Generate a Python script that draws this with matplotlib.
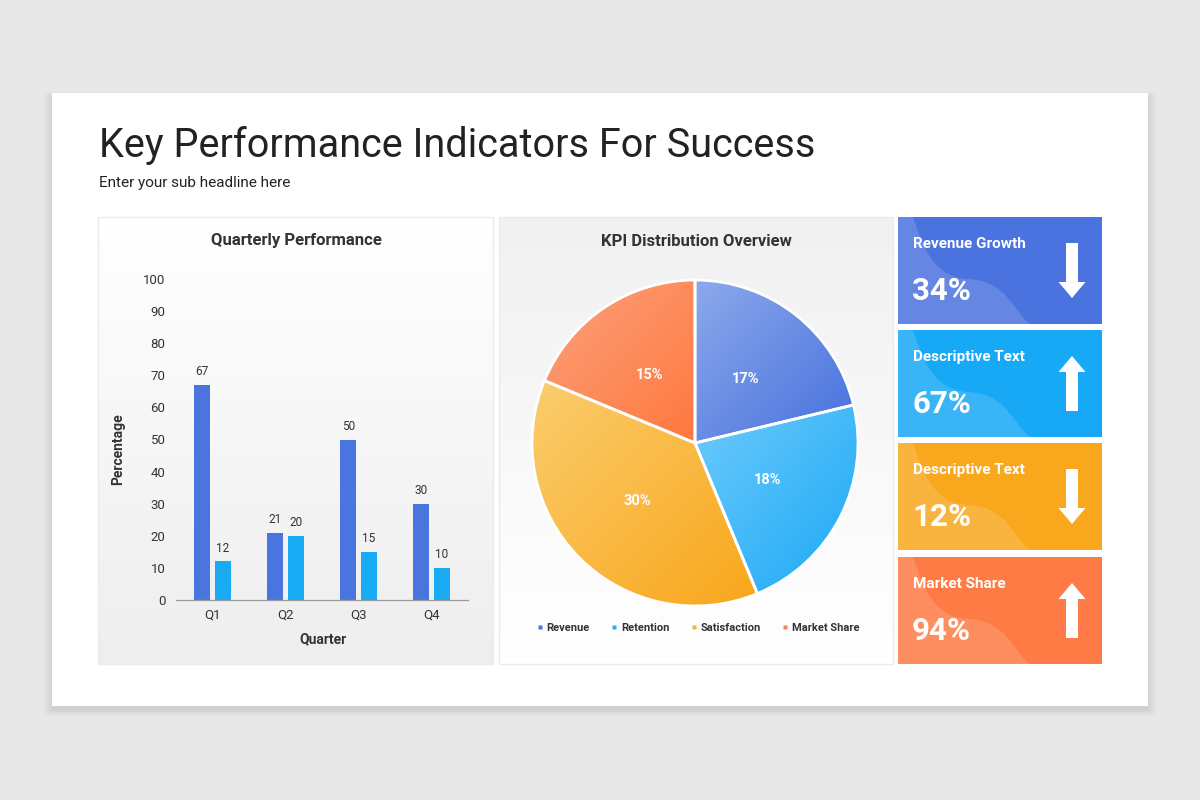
import matplotlib
matplotlib.use("Agg")
import matplotlib.pyplot as plt
import matplotlib.patches as mpatches
from matplotlib.path import Path
from matplotlib.lines import Line2D
from matplotlib.colors import to_rgb
import numpy as np

plt.rcParams['font.family'] = ['Roboto', 'DejaVu Sans']

# ---- data ----
quarters = ['Q1', 'Q2', 'Q3', 'Q4']
series_a = [67, 21, 50, 30]
series_b = [12, 20, 15, 10]

pie_labels = ['Revenue', 'Retention', 'Satisfaction', 'Market Share']
pie_values = [17, 18, 30, 15]

card_titles = ['Revenue Growth', 'Descriptive Text', 'Descriptive Text', 'Market Share']
card_values = ['34%', '67%', '12%', '94%']
card_up = [False, True, False, True]

# ---- colours ----
BAR_DARK = '#4A74DE'
BAR_LIGHT = '#1AABF5'
pie_light = ['#8CA9EC', '#6CCBFB', '#FBCD6E', '#FCA17C']
pie_dark = ['#4670DC', '#1CA8F6', '#F9A61A', '#FF783E']
legend_cols = ['#4A74DE', '#29B0F5', '#F9B03A', '#FD8050']
card_cols = ['#4B73DF', '#17A9F6', '#F9A81E', '#FE7B45']
TXT = '#333333'


def vgrad(c_top, c_bot, n=64):
    a = np.array(to_rgb(c_top))
    b = np.array(to_rgb(c_bot))
    t = np.linspace(0, 1, n)[:, None, None]
    return a * (1 - t) + b * t * np.ones((1, 2, 1))


def dgrad(c1, c2, n=96):
    a = np.array(to_rgb(c1))
    b = np.array(to_rgb(c2))
    i, j = np.mgrid[0:n, 0:n]
    t = ((i + j) / (2 * n - 2))[:, :, None]
    return a * (1 - t) + b * t


fig = plt.figure(figsize=(12, 8), dpi=100)
fig.patch.set_facecolor('#E9E8E9')

# background axes in pixel coordinates (y down)
bg = fig.add_axes([0, 0, 1, 1])
bg.set_xlim(0, 1200)
bg.set_ylim(800, 0)
bg.axis('off')

# slide shadow + slide
for k in range(12):
    bg.add_patch(mpatches.Rectangle((52 - k * 0.8, 93 - k * 0.5 + 4), 1096 + 1.6 * k, 613 + k,
                                    facecolor='black', edgecolor='none', alpha=0.006, zorder=1))
bg.add_patch(mpatches.Rectangle((52, 93), 1096, 613, facecolor='white', edgecolor='none', zorder=2))

bg.text(99, 157, 'Key Performance Indicators For Success', fontsize=28.5, color='#222222',
        ha='left', va='baseline', zorder=5)
bg.text(99, 183, 'Enter your sub headline here', fontsize=11, color='#222222',
        ha='left', va='center', zorder=5)

# panels
bg.imshow(vgrad('#FFFFFF', '#EEEEEE'), extent=(98, 493, 664, 217), aspect='auto', zorder=3)
bg.add_patch(mpatches.Rectangle((98, 217), 395, 447, facecolor='none', edgecolor='#EBEBEB', lw=1, zorder=4))
bg.imshow(vgrad('#F1F1F1', '#FFFFFF'), extent=(499, 893, 664, 217), aspect='auto', zorder=3)
bg.add_patch(mpatches.Rectangle((499, 217), 394, 447, facecolor='none', edgecolor='#EBEBEB', lw=1, zorder=4))
bg.set_xlim(0, 1200)
bg.set_ylim(800, 0)

bg.text(296, 241, 'Quarterly Performance', fontsize=12, fontweight='bold', color=TXT,
        ha='center', va='center', zorder=5)
bg.text(696, 241, 'KPI Distribution Overview', fontsize=12, fontweight='bold', color=TXT,
        ha='center', va='center', zorder=5)

# KPI cards
card_tops = [217, 330, 443, 557]
cw, ch = 204, 107
for top, col, title, val, up in zip(card_tops, card_cols, card_titles, card_values, card_up):
    x0 = 898
    bg.add_patch(mpatches.Rectangle((x0, top), cw, ch, facecolor=col, edgecolor='none', zorder=3))
    verts = [(0, 0), (15, 0), (25, 30), (35, 60), (70, 62), (110, 64), (115, 95), (132, ch),
             (0, ch), (0, 0)]
    codes = [Path.MOVETO, Path.LINETO, Path.CURVE4, Path.CURVE4, Path.CURVE4,
             Path.CURVE4, Path.CURVE4, Path.CURVE4, Path.LINETO, Path.CLOSEPOLY]
    verts = [(x0 + vx, top + vy) for vx, vy in verts]
    bg.add_patch(mpatches.PathPatch(Path(verts, codes), facecolor='white', edgecolor='none',
                                    alpha=0.15, zorder=4))
    bg.text(x0 + 15, top + 27, title, fontsize=11, fontweight='bold', color='white',
            ha='left', va='center', zorder=6)
    bg.text(x0 + 14, top + 74, val, fontsize=22.5, fontweight='bold', color='white',
            ha='left', va='center', zorder=6)
    ax_x = x0 + 174
    if up:
        y_start, dy = top + 81, -55
    else:
        y_start, dy = top + 26, 55
    bg.add_patch(mpatches.FancyArrow(ax_x, y_start, 0, dy, width=12, head_width=27,
                                     head_length=16, length_includes_head=True,
                                     facecolor='white', edgecolor='none', zorder=6))

# ---- bar chart ----
ax1 = fig.add_axes([176 / 1200, 1 - 600 / 800, 292 / 1200, 321 / 800])
ax1.patch.set_alpha(0)
x = np.arange(len(quarters))
w = 0.22
ba = ax1.bar(x - 0.14, series_a, w, color=BAR_DARK)
bb = ax1.bar(x + 0.14, series_b, w, color=BAR_LIGHT)
for bars in (ba, bb):
    ax1.bar_label(bars, padding=5, fontsize=8.5, color=TXT)
ax1.set_xlim(-0.5, len(quarters) - 0.5)
ax1.set_ylim(0, 100)
ax1.set_yticks(np.arange(0, 101, 10))
ax1.set_xticks(x)
ax1.set_xticklabels(quarters)
ax1.tick_params(length=0, labelsize=9.5, labelcolor=TXT)
ax1.tick_params(axis='y', pad=7.5)
ax1.tick_params(axis='x', pad=6)
for s in ('top', 'right', 'left'):
    ax1.spines[s].set_visible(False)
ax1.spines['bottom'].set_color('#999999')
ax1.spines['bottom'].set_linewidth(0.9)
ax1.set_ylabel('Percentage', fontsize=10, fontweight='bold', color=TXT)
ax1.yaxis.set_label_coords(-0.175, 0.47)
ax1.set_xlabel('Quarter', fontsize=10, fontweight='bold', color=TXT)
ax1.xaxis.set_label_coords(0.503, -0.1)

# ---- pie chart ----
ax2 = fig.add_axes([532 / 1200, 1 - 606 / 800, 326 / 1200, 326 / 800])
ax2.patch.set_alpha(0)
total = sum(pie_values)
wedges, texts, autotexts = ax2.pie(
    pie_values, startangle=90, counterclock=False, radius=1,
    autopct=lambda p: f'{round(p * total / 100)}%', pctdistance=0.5,
    wedgeprops=dict(edgecolor='white', linewidth=2),
    textprops=dict(color='white', fontsize=10.5, fontweight='bold'))
for wdg, c1, c2 in zip(wedges, pie_light, pie_dark):
    bb_ = wdg.get_path().get_extents()
    im = ax2.imshow(dgrad(c1, c2), extent=(bb_.x0, bb_.x1, bb_.y0, bb_.y1),
                    origin='upper', zorder=0.5, aspect='auto', interpolation='bilinear')
    im.set_clip_path(wdg)
    wdg.set_facecolor('none')
    wdg.set_zorder(1)
for t in autotexts:
    t.set_zorder(3)
ax2.set_xlim(-1, 1)
ax2.set_ylim(-1, 1)
ax2.set_aspect('equal')
ax2.axis('off')

handles = [Line2D([], [], marker='s', linestyle='none', markersize=3.2,
                  markerfacecolor=c, markeredgecolor='none') for c in legend_cols]
leg = fig.legend(handles, pie_labels, loc='center', bbox_to_anchor=(698 / 1200, 1 - 628 / 800),
                 ncol=4, frameon=False, fontsize=8, handlelength=0.6, handletextpad=0.3,
                 columnspacing=1.9)
for t in leg.get_texts():
    t.set_fontweight('bold')
    t.set_color(TXT)

fig.savefig('out.png', dpi=100, facecolor=fig.get_facecolor())
